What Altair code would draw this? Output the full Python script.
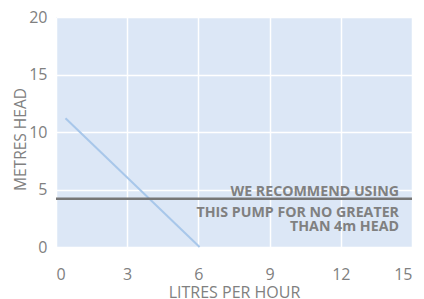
import altair as alt
import pandas as pd

flow = [0.4, 6.05]
head = [11.2, 0.0]
rec_head = [4.2]
note_lines = ["WE RECOMMEND USING", "THIS PUMP FOR NO GREATER", "THAN 4m HEAD"]
note_y = [4.8, 2.95, 1.72]
x_ticks = [0, 3, 6, 9, 12, 15]
y_ticks = [0, 5, 10, 15, 20]

curve = pd.DataFrame({"flow": flow, "head": head})
rule_df = pd.DataFrame({"head": rec_head})
notes = pd.DataFrame({"text": note_lines, "y": note_y, "x": [14.45] * 3})

GRAY = "#808080"
FONT = "Open Sans"

x = alt.X("flow:Q", scale=alt.Scale(domain=[0, 15], nice=False),
          axis=alt.Axis(values=x_ticks, title="LITRES PER HOUR", ticks=False, domain=False,
                        labelPadding=19, labelFontSize=16, titleFontSize=16,
                        titleY=45, titleBaseline="middle"))
y = alt.Y("head:Q", scale=alt.Scale(domain=[0, 20], nice=False),
          axis=alt.Axis(values=y_ticks, title="METRES HEAD", ticks=False, domain=False,
                        labelPadding=9, labelFontSize=16, titleFontSize=15.5,
                        titleX=-36, titleY=122, titleBaseline="middle", titleAlign="center"))

line = alt.Chart(curve).mark_line(color="#a8c7ea", strokeWidth=2).encode(x=x, y=y)
rule = alt.Chart(rule_df).mark_rule(color="#777777", strokeWidth=2.5).encode(y=alt.Y("head:Q"))
text = alt.Chart(notes).mark_text(align="right", baseline="middle", fontWeight="bold",
                                  fontSize=14.2, color=GRAY, font=FONT).encode(
    x=alt.X("x:Q"), y=alt.Y("y:Q"), text="text:N")

chart = alt.layer(line, rule, text).properties(
    width=356, height=230,
    autosize=alt.AutoSizeParams(type="none"),
    padding={"left": 48, "top": 9, "right": 4, "bottom": 60},
    background="white",
).configure_view(fill="#dce7f6", stroke=None).configure_axis(
    gridColor="white", gridWidth=1.5, labelColor=GRAY, titleColor=GRAY,
    labelFont=FONT, titleFont=FONT, titleFontWeight="normal",
)

chart.save("out.html", embed_options={"renderer": "svg", "actions": False})
